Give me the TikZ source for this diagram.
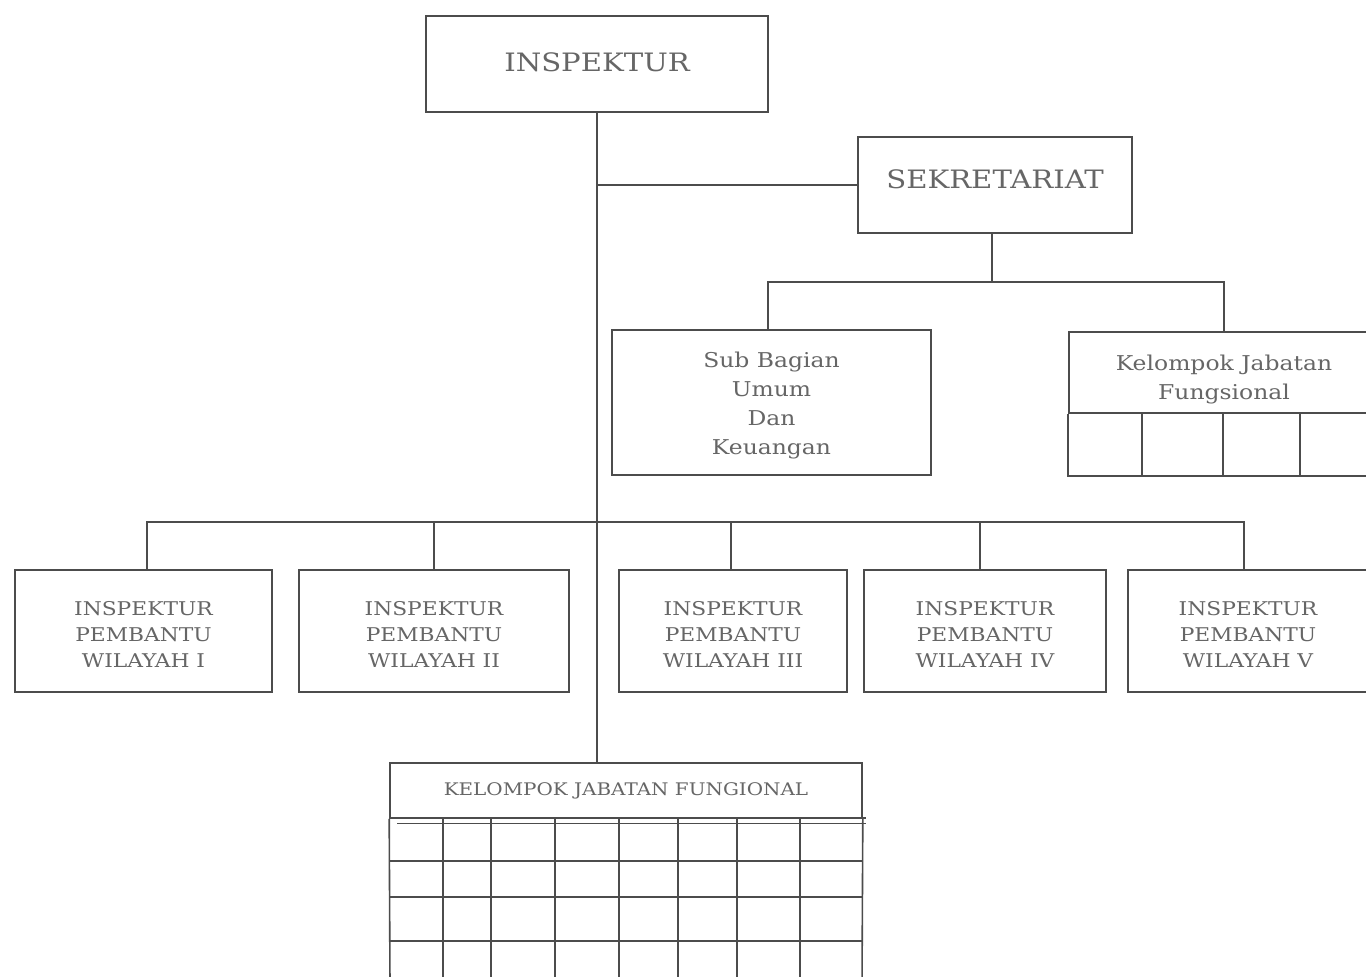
\documentclass[tikz,border=0pt]{standalone}
\usepackage{fontspec}
\setmainfont{DejaVu Serif}[FakeStretch=1.15]
\newcommand\shl[2]{\raisebox{#1}[\height][\depth]{\begin{tabular}{@{}c@{}}#2\end{tabular}}}
\begin{document}
\begin{tikzpicture}[x=0.75pt,y=-0.75pt,
  ln/.style={draw=black!70, line width=1.2pt},
  box/.style={ln, rectangle, inner sep=0pt, align=center, text=black!60},
  big/.style={font=\fontsize{19}{23}\selectfont},
  mid/.style={font=\fontsize{15.3}{21.75}\selectfont},
  small/.style={font=\fontsize{14.2}{19.5}\selectfont},
  tiny/.style={font=\fontsize{13}{15}\selectfont}]
\useasboundingbox (0,0) rectangle (1366,977);
\fill[white] (0,0) rectangle (1366,977);
\clip (0,0) rectangle (1366,977);

\node[box,big,minimum width=256.5pt,minimum height=72pt] (insp) at (597,64) {\shl{-0.75pt}{INSPEKTUR}};
\node[box,big,minimum width=205.5pt,minimum height=72pt] (sek) at (995,185) {\shl{2.25pt}{SEKRETARIAT}};
\node[box,mid,minimum width=239.25pt,minimum height=108.75pt] (sub) at (771.5,402.5) {\shl{-1.9pt}{Sub Bagian\\Umum\\Dan\\Keuangan}};
\node[box,mid,minimum width=232.5pt,minimum height=60.75pt] (kjf) at (1224,372.5) {\shl{-5pt}{Kelompok Jabatan\\Fungsional}};

\node[box,small,minimum width=192.75pt,minimum height=91.5pt] (b1) at (143.5,631) {\shl{-3.75pt}{INSPEKTUR\\PEMBANTU\\WILAYAH I}};
\node[box,small,minimum width=202.5pt,minimum height=91.5pt] (b2) at (434,631) {\shl{-3.75pt}{INSPEKTUR\\PEMBANTU\\WILAYAH II}};
\node[box,small,minimum width=171pt,minimum height=91.5pt] (b3) at (733,631) {\shl{-3.75pt}{INSPEKTUR\\PEMBANTU\\WILAYAH III}};
\node[box,small,minimum width=181.5pt,minimum height=91.5pt] (b4) at (985,631) {\shl{-3.75pt}{INSPEKTUR\\PEMBANTU\\WILAYAH IV}};
\node[box,small,minimum width=180pt,minimum height=91.5pt] (b5) at (1248,631) {\shl{-3.75pt}{INSPEKTUR\\PEMBANTU\\WILAYAH V}};

\node[box,tiny,minimum width=354pt,minimum height=41.25pt] (kbot) at (626,790.5) {KELOMPOK JABATAN FUNGIONAL};

% connectors
\coordinate (bus) at (0,522);
\coordinate (sbus) at (0,282);
\coordinate (t1) at ([xshift=2.6pt]b1.north);
\coordinate (t3) at ([xshift=-1.5pt]b3.north);
\coordinate (t4) at ([xshift=-3.75pt]b4.north);
\coordinate (t5) at ([xshift=-3pt]b5.north);
\coordinate (ts) at ([xshift=-2.6pt]sub.north);
\coordinate (ss) at ([xshift=-2.25pt]sek.south);
\draw[ln] (insp.south) -- (insp.south |- kbot.north);
\draw[ln] (insp.south |- sek.west) -- (sek.west);
\draw[ln] (ss) -- (ss |- sbus);
\draw[ln] (ts) -- (ts |- sbus) -- (kjf.north |- sbus) -- (kjf.north);
\draw[ln] (t1) -- (t1 |- bus) -- (t5 |- bus) -- (t5);
\draw[ln] (b2.north) -- (b2.north |- bus);
\draw[ln] (t3) -- (t3 |- bus);
\draw[ln] (t4) -- (t4 |- bus);

% cells under right Kelompok
\draw[ln] (kjf.south west) -- ++(0,62) -| (kjf.south east);
\foreach \x in {1142,1223,1300} \draw[ln] (\x,413) -- (\x,475);

% grid under bottom Kelompok
\draw[ln] (kbot.south west) -- (390,985);
\draw[ln] (kbot.south east) -- (862,985);
\draw[ln] (397,823.5) -- (866,823.5);
\draw[ln] (397,818) -- (866,818);
\foreach \y in {861,897,941} \draw[ln] (390,\y) -- (863,\y);
\foreach \x in {443,491,555,619,678,737,800} \draw[ln] (\x,818) -- (\x,985);
\end{tikzpicture}
\end{document}
